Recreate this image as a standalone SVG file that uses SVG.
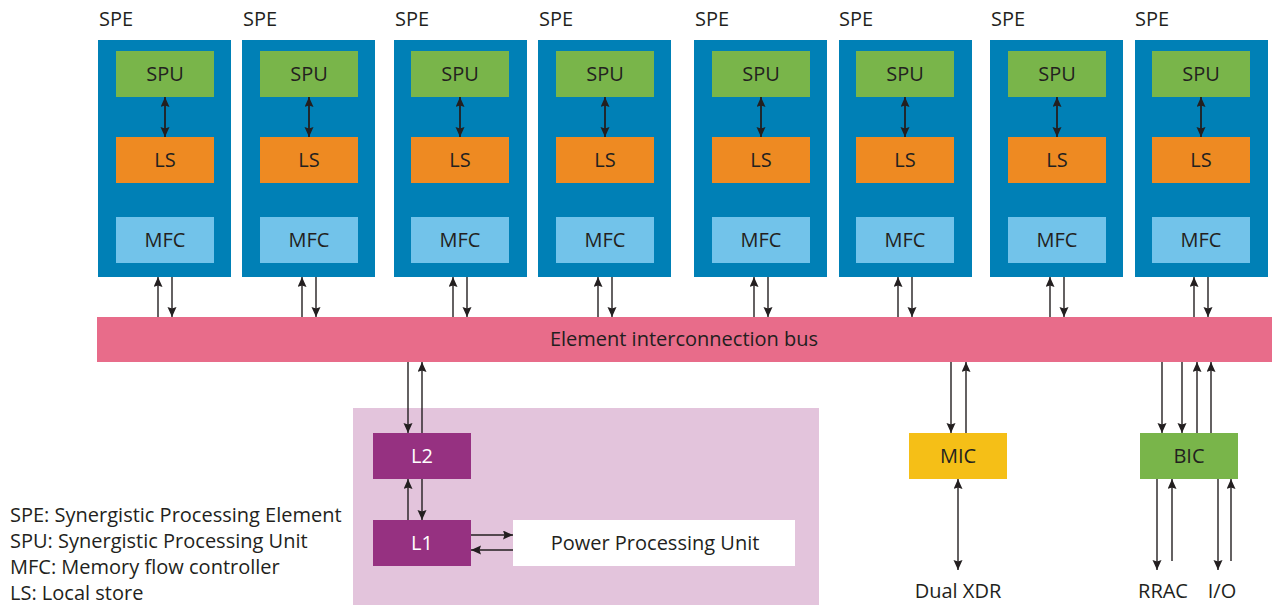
<svg xmlns="http://www.w3.org/2000/svg" width="1272" height="605" viewBox="0 0 1272 605">
<defs>
<style>
text{font-family:"Open Sans","Noto Sans","Liberation Sans",sans-serif;fill:#231f20;font-size:20px}
.c{text-anchor:middle}
.spe{fill:#0080b6}
.spu{fill:#79b54a}
.ls{fill:#ee8a22}
.mfc{fill:#72c3ea}
.bus{fill:#e86c8a}
.ppe{fill:#e3c4dc}
.lc{fill:#963181}
.lt{fill:#ffffff}
.mic{fill:#f5bf17}
.bic{fill:#79b54a}
.w{fill:#ffffff}
.a{stroke:#231f20;stroke-width:1.4;fill:none;marker-end:url(#ah)}
.d{stroke:#231f20;stroke-width:1.4;fill:none;marker-start:url(#ah);marker-end:url(#ah)}
.ai{stroke:#231f20;stroke-width:1.8;fill:none;marker-start:url(#ah);marker-end:url(#ah)}
</style>
<marker id="ah" markerUnits="userSpaceOnUse" markerWidth="11" markerHeight="10" refX="10" refY="4.5" orient="auto-start-reverse">
<path d="M0,0 L10,4.5 L0,9 L1.5,4.5 z" fill="#231f20"/>
</marker>
</defs>

<g id="spe1"><text x="99" y="26">SPE</text><rect class="spe" x="98" y="40" width="133" height="237"/><rect class="spu" x="116" y="51" width="98" height="46"/><text class="c" x="165" y="81">SPU</text><rect class="ls" x="116" y="137" width="98" height="46"/><text class="c" x="165" y="167">LS</text><rect class="mfc" x="116" y="217" width="98" height="46"/><text class="c" x="165" y="247">MFC</text></g>
<g id="spe2"><text x="243" y="26">SPE</text><rect class="spe" x="242" y="40" width="133" height="237"/><rect class="spu" x="260" y="51" width="98" height="46"/><text class="c" x="309" y="81">SPU</text><rect class="ls" x="260" y="137" width="98" height="46"/><text class="c" x="309" y="167">LS</text><rect class="mfc" x="260" y="217" width="98" height="46"/><text class="c" x="309" y="247">MFC</text></g>
<g id="spe3"><text x="395" y="26">SPE</text><rect class="spe" x="394" y="40" width="133" height="237"/><rect class="spu" x="411" y="51" width="98" height="46"/><text class="c" x="460" y="81">SPU</text><rect class="ls" x="411" y="137" width="98" height="46"/><text class="c" x="460" y="167">LS</text><rect class="mfc" x="411" y="217" width="98" height="46"/><text class="c" x="460" y="247">MFC</text></g>
<g id="spe4"><text x="539" y="26">SPE</text><rect class="spe" x="538" y="40" width="133" height="237"/><rect class="spu" x="556" y="51" width="98" height="46"/><text class="c" x="605" y="81">SPU</text><rect class="ls" x="556" y="137" width="98" height="46"/><text class="c" x="605" y="167">LS</text><rect class="mfc" x="556" y="217" width="98" height="46"/><text class="c" x="605" y="247">MFC</text></g>
<g id="spe5"><text x="695" y="26">SPE</text><rect class="spe" x="694" y="40" width="133" height="237"/><rect class="spu" x="712" y="51" width="98" height="46"/><text class="c" x="761" y="81">SPU</text><rect class="ls" x="712" y="137" width="98" height="46"/><text class="c" x="761" y="167">LS</text><rect class="mfc" x="712" y="217" width="98" height="46"/><text class="c" x="761" y="247">MFC</text></g>
<g id="spe6"><text x="839" y="26">SPE</text><rect class="spe" x="839" y="40" width="133" height="237"/><rect class="spu" x="856" y="51" width="98" height="46"/><text class="c" x="905" y="81">SPU</text><rect class="ls" x="856" y="137" width="98" height="46"/><text class="c" x="905" y="167">LS</text><rect class="mfc" x="856" y="217" width="98" height="46"/><text class="c" x="905" y="247">MFC</text></g>
<g id="spe7"><text x="991" y="26">SPE</text><rect class="spe" x="990" y="40" width="133" height="237"/><rect class="spu" x="1008" y="51" width="98" height="46"/><text class="c" x="1057" y="81">SPU</text><rect class="ls" x="1008" y="137" width="98" height="46"/><text class="c" x="1057" y="167">LS</text><rect class="mfc" x="1008" y="217" width="98" height="46"/><text class="c" x="1057" y="247">MFC</text></g>
<g id="spe8"><text x="1135" y="26">SPE</text><rect class="spe" x="1135" y="40" width="133" height="237"/><rect class="spu" x="1152" y="51" width="98" height="46"/><text class="c" x="1201" y="81">SPU</text><rect class="ls" x="1152" y="137" width="98" height="46"/><text class="c" x="1201" y="167">LS</text><rect class="mfc" x="1152" y="217" width="98" height="46"/><text class="c" x="1201" y="247">MFC</text></g>

<g id="bus"><rect class="bus" x="97" y="317" width="1175" height="45"/><text class="c" x="684" y="346">Element interconnection bus</text></g>

<g id="ppe"><rect class="ppe" x="353" y="408" width="466" height="197"/></g>
<g id="l2"><rect class="lc" x="373" y="433" width="98" height="46"/><text class="c lt" x="422" y="463">L2</text></g>
<g id="l1"><rect class="lc" x="373" y="520" width="98" height="46"/><text class="c lt" x="422" y="550">L1</text></g>
<g id="ppu"><rect class="w" x="513" y="520" width="282" height="46"/><text class="c" x="655" y="550">Power Processing Unit</text></g>
<g id="mic"><rect class="mic" x="909" y="433" width="98" height="46"/><text class="c" x="958" y="463">MIC</text></g>
<g id="bic"><rect class="bic" x="1140" y="433" width="98" height="46"/><text class="c" x="1189" y="463">BIC</text></g>
<g id="xdr"><text class="c" x="958" y="598">Dual XDR</text></g>
<g id="rrac"><text class="c" x="1163" y="598">RRAC</text></g>
<g id="io"><text class="c" x="1222" y="598">I/O</text></g>

<g id="legend">
<text x="10" y="522">SPE: Synergistic Processing Element</text>
<text x="10" y="548">SPU: Synergistic Processing Unit</text>
<text x="10" y="574">MFC: Memory flow controller</text>
<text x="10" y="600">LS: Local store</text>
</g>

<g id="connectors">
<line class="ai" x1="165" y1="97" x2="165" y2="137"/>
<line class="ai" x1="309" y1="97" x2="309" y2="137"/>
<line class="ai" x1="460" y1="97" x2="460" y2="137"/>
<line class="ai" x1="605" y1="97" x2="605" y2="137"/>
<line class="ai" x1="761" y1="97" x2="761" y2="137"/>
<line class="ai" x1="905" y1="97" x2="905" y2="137"/>
<line class="ai" x1="1057" y1="97" x2="1057" y2="137"/>
<line class="ai" x1="1201" y1="97" x2="1201" y2="137"/>

<line class="a" x1="158" y1="317" x2="158" y2="277"/>
<line class="a" x1="302" y1="317" x2="302" y2="277"/>
<line class="a" x1="453" y1="317" x2="453" y2="277"/>
<line class="a" x1="598" y1="317" x2="598" y2="277"/>
<line class="a" x1="754" y1="317" x2="754" y2="277"/>
<line class="a" x1="898" y1="317" x2="898" y2="277"/>
<line class="a" x1="1050" y1="317" x2="1050" y2="277"/>
<line class="a" x1="1194" y1="317" x2="1194" y2="277"/>

<line class="a" x1="172" y1="277" x2="172" y2="317"/>
<line class="a" x1="316" y1="277" x2="316" y2="317"/>
<line class="a" x1="467" y1="277" x2="467" y2="317"/>
<line class="a" x1="612" y1="277" x2="612" y2="317"/>
<line class="a" x1="768" y1="277" x2="768" y2="317"/>
<line class="a" x1="912" y1="277" x2="912" y2="317"/>
<line class="a" x1="1064" y1="277" x2="1064" y2="317"/>
<line class="a" x1="1208" y1="277" x2="1208" y2="317"/>

<line class="a" x1="408" y1="362" x2="408" y2="433"/>
<line class="a" x1="422" y1="433" x2="422" y2="362"/>
<line class="a" x1="408" y1="520" x2="408" y2="479"/>
<line class="a" x1="422" y1="479" x2="422" y2="520"/>
<line class="a" x1="471" y1="535" x2="513" y2="535"/>
<line class="a" x1="513" y1="550" x2="471" y2="550"/>

<line class="a" x1="951" y1="362" x2="951" y2="433"/>
<line class="a" x1="966" y1="433" x2="966" y2="362"/>
<line class="d" x1="958" y1="479" x2="958" y2="570"/>

<line class="a" x1="1162" y1="362" x2="1162" y2="433"/>
<line class="a" x1="1182" y1="362" x2="1182" y2="433"/>
<line class="a" x1="1197" y1="433" x2="1197" y2="362"/>
<line class="a" x1="1211" y1="433" x2="1211" y2="362"/>
<line class="a" x1="1157" y1="479" x2="1157" y2="570"/>
<line class="a" x1="1172" y1="561" x2="1172" y2="479"/>
<line class="a" x1="1218" y1="479" x2="1218" y2="570"/>
<line class="a" x1="1231" y1="561" x2="1231" y2="479"/>
</g>
</svg>
